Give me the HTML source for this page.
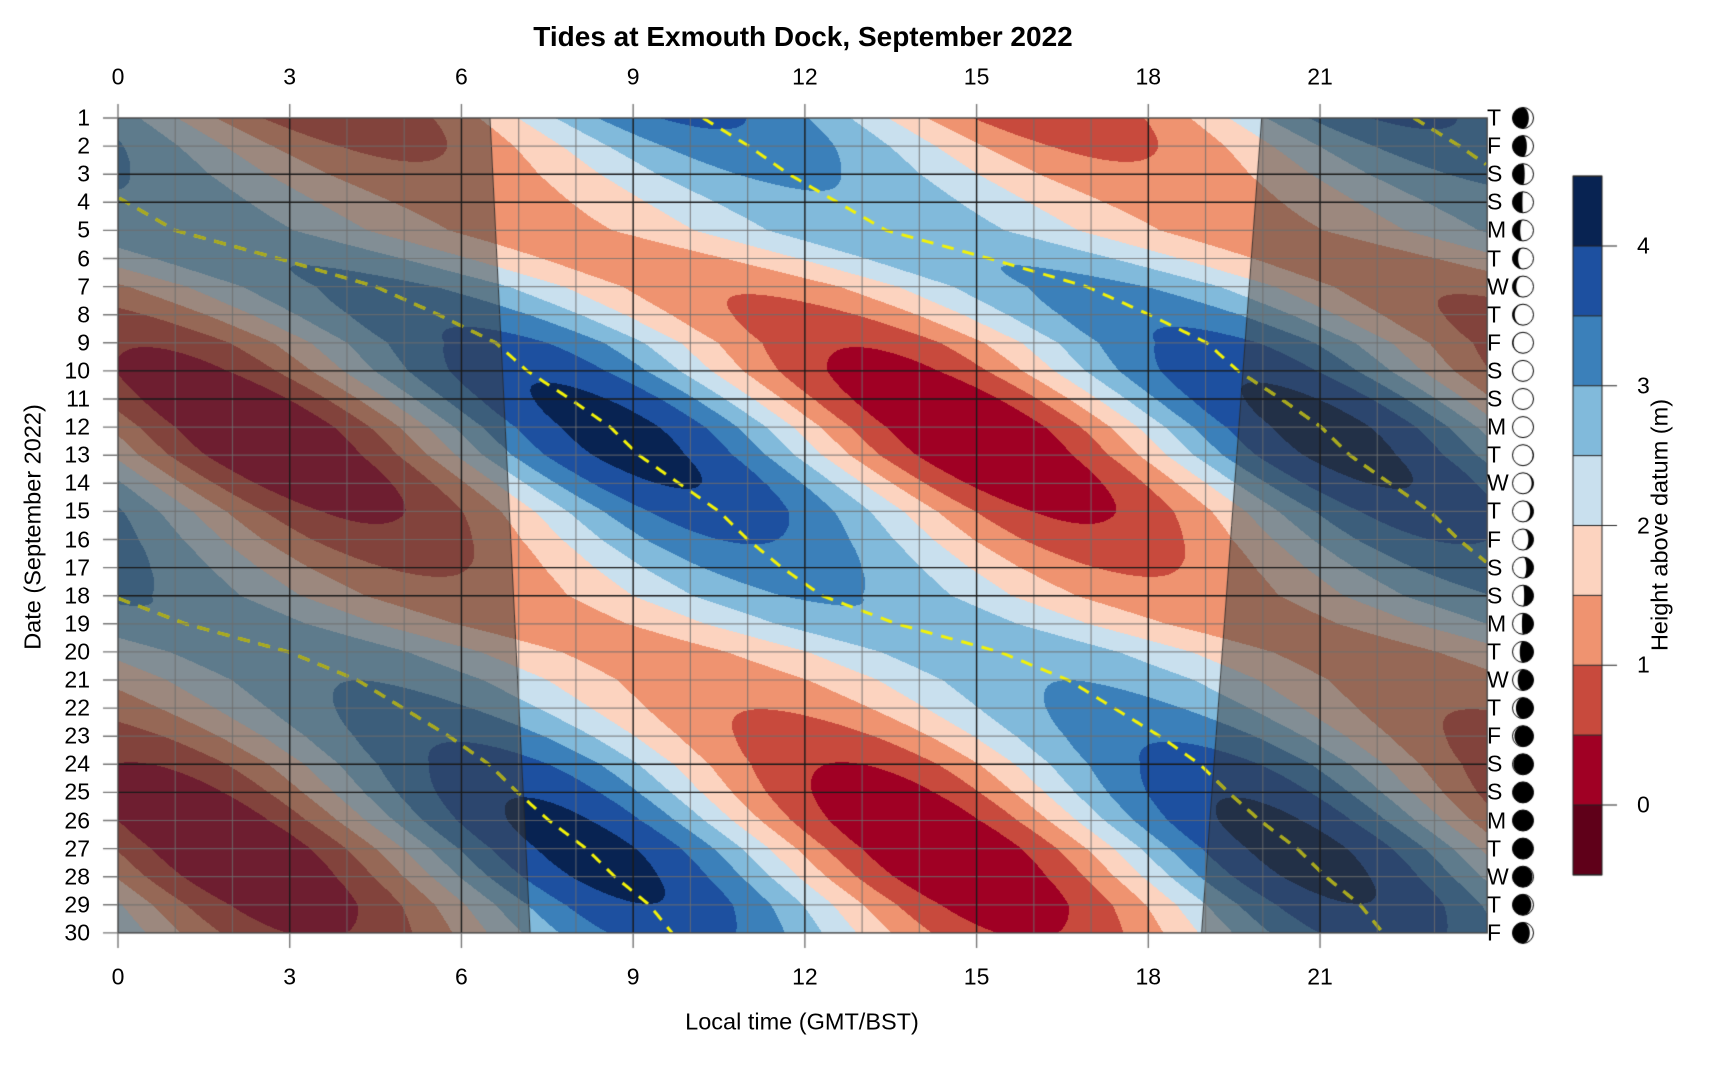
<!DOCTYPE html>
<html><head><meta charset="utf-8">
<style>
body{margin:0;background:#fff;width:1720px;height:1080px;overflow:hidden;position:relative;font-family:"Liberation Sans",Arial,sans-serif;color:#000}
canvas{position:absolute;left:0;top:0}
.t{position:absolute;white-space:nowrap;line-height:1}
.xl{font-size:23px;transform:translate(-50%,-50%)}
.yl{font-size:23px;transform:translate(-100%,-50%)}
.dl{font-size:23px;transform:translate(0,-50%)}
</style></head><body>
<canvas id="c" width="1720" height="1080"></canvas>
<div class="t" style="left:803px;top:37px;font-size:28px;font-weight:bold;transform:translate(-50%,-50%)">Tides at Exmouth Dock, September 2022</div>
<div class="t" style="left:802px;top:1022px;font-size:23.5px;transform:translate(-50%,-50%)">Local time (GMT/BST)</div>
<div class="t" style="left:33px;top:527px;font-size:23.5px;transform:translate(-50%,-50%) rotate(-90deg)">Date (September 2022)</div>
<div class="t" style="left:1660px;top:525px;font-size:23.5px;transform:translate(-50%,-50%) rotate(-90deg)">Height above datum (m)</div>
<div class="t xl" style="left:118px;top:77px">0</div><div class="t xl" style="left:289.7px;top:77px">3</div><div class="t xl" style="left:461.4px;top:77px">6</div><div class="t xl" style="left:633.2px;top:77px">9</div><div class="t xl" style="left:804.9px;top:77px">12</div><div class="t xl" style="left:976.6px;top:77px">15</div><div class="t xl" style="left:1148.3px;top:77px">18</div><div class="t xl" style="left:1320px;top:77px">21</div>
<div class="t xl" style="left:118px;top:977px">0</div><div class="t xl" style="left:289.7px;top:977px">3</div><div class="t xl" style="left:461.4px;top:977px">6</div><div class="t xl" style="left:633.2px;top:977px">9</div><div class="t xl" style="left:804.9px;top:977px">12</div><div class="t xl" style="left:976.6px;top:977px">15</div><div class="t xl" style="left:1148.3px;top:977px">18</div><div class="t xl" style="left:1320px;top:977px">21</div>
<div class="t yl" style="left:90px;top:118px">1</div><div class="t yl" style="left:90px;top:146.1px">2</div><div class="t yl" style="left:90px;top:174.2px">3</div><div class="t yl" style="left:90px;top:202.3px">4</div><div class="t yl" style="left:90px;top:230.4px">5</div><div class="t yl" style="left:90px;top:258.5px">6</div><div class="t yl" style="left:90px;top:286.6px">7</div><div class="t yl" style="left:90px;top:314.7px">8</div><div class="t yl" style="left:90px;top:342.8px">9</div><div class="t yl" style="left:90px;top:370.9px">10</div><div class="t yl" style="left:90px;top:399px">11</div><div class="t yl" style="left:90px;top:427.1px">12</div><div class="t yl" style="left:90px;top:455.2px">13</div><div class="t yl" style="left:90px;top:483.3px">14</div><div class="t yl" style="left:90px;top:511.4px">15</div><div class="t yl" style="left:90px;top:539.5px">16</div><div class="t yl" style="left:90px;top:567.6px">17</div><div class="t yl" style="left:90px;top:595.7px">18</div><div class="t yl" style="left:90px;top:623.8px">19</div><div class="t yl" style="left:90px;top:651.9px">20</div><div class="t yl" style="left:90px;top:680px">21</div><div class="t yl" style="left:90px;top:708.1px">22</div><div class="t yl" style="left:90px;top:736.2px">23</div><div class="t yl" style="left:90px;top:764.3px">24</div><div class="t yl" style="left:90px;top:792.4px">25</div><div class="t yl" style="left:90px;top:820.5px">26</div><div class="t yl" style="left:90px;top:848.6px">27</div><div class="t yl" style="left:90px;top:876.7px">28</div><div class="t yl" style="left:90px;top:904.8px">29</div><div class="t yl" style="left:90px;top:932.9px">30</div>
<div class="t dl" style="left:1487px;top:118px">T</div><div class="t dl" style="left:1487px;top:146.1px">F</div><div class="t dl" style="left:1487px;top:174.2px">S</div><div class="t dl" style="left:1487px;top:202.3px">S</div><div class="t dl" style="left:1487px;top:230.4px">M</div><div class="t dl" style="left:1487px;top:258.5px">T</div><div class="t dl" style="left:1487px;top:286.6px">W</div><div class="t dl" style="left:1487px;top:314.7px">T</div><div class="t dl" style="left:1487px;top:342.8px">F</div><div class="t dl" style="left:1487px;top:370.9px">S</div><div class="t dl" style="left:1487px;top:399px">S</div><div class="t dl" style="left:1487px;top:427.1px">M</div><div class="t dl" style="left:1487px;top:455.2px">T</div><div class="t dl" style="left:1487px;top:483.3px">W</div><div class="t dl" style="left:1487px;top:511.4px">T</div><div class="t dl" style="left:1487px;top:539.5px">F</div><div class="t dl" style="left:1487px;top:567.6px">S</div><div class="t dl" style="left:1487px;top:595.7px">S</div><div class="t dl" style="left:1487px;top:623.8px">M</div><div class="t dl" style="left:1487px;top:651.9px">T</div><div class="t dl" style="left:1487px;top:680px">W</div><div class="t dl" style="left:1487px;top:708.1px">T</div><div class="t dl" style="left:1487px;top:736.2px">F</div><div class="t dl" style="left:1487px;top:764.3px">S</div><div class="t dl" style="left:1487px;top:792.4px">S</div><div class="t dl" style="left:1487px;top:820.5px">M</div><div class="t dl" style="left:1487px;top:848.6px">T</div><div class="t dl" style="left:1487px;top:876.7px">W</div><div class="t dl" style="left:1487px;top:904.8px">T</div><div class="t dl" style="left:1487px;top:932.9px">F</div>
<div class="t" style="left:1637px;top:246px;font-size:23px;transform:translate(0,-50%)">4</div>
<div class="t" style="left:1637px;top:385.75px;font-size:23px;transform:translate(0,-50%)">3</div>
<div class="t" style="left:1637px;top:525.5px;font-size:23px;transform:translate(0,-50%)">2</div>
<div class="t" style="left:1637px;top:665.25px;font-size:23px;transform:translate(0,-50%)">1</div>
<div class="t" style="left:1637px;top:805px;font-size:23px;transform:translate(0,-50%)">0</div>
<script>
const c=document.getElementById('c'),g=c.getContext('2d');
const X0=118,Y0=118,HX=57.24,DY=28.1,TMAX=23.92,X1=X0+TMAX*HX,Y1=Y0+29*DY;
const X=h=>X0+h*HX,Y=d=>Y0+(d-1)*DY;
const Hp=[-2.2,-1.4,-0.7,0.15,1.0,2.8,4.5,5.6,6.6,7.15,7.9,8.6,9.1,9.8,10.5,11,11.6,12.3,13.6,15.4,16.6,17.4,18.2,18.9,19.4,19.95,20.6,21.1,21.7,22.1];
function H(d){let i=Math.floor(d-1);if(i<0)i=0;if(i>28)i=28;const f=d-1-i;return Hp[i]*(1-f)+Hp[i+1]*f;}
function A(d){return 1.45+0.65*Math.cos(2*Math.PI*(d-12.3)/14.77);}
const P=12.42;
const cols=[[95,0,25],[160,0,36],[200,74,61],[239,147,112],[252,211,191],[201,224,238],[129,186,219],[59,128,186],[29,80,160],[8,35,82]];
const W=Math.round(X1-X0),Hh=Math.round(Y1-Y0);
const img=g.createImageData(W,Hh);
for(let py=0;py<Hh;py++){const d=1+(py+0.5)/DY;const hd=H(d),ad=A(d);
 const sr=6.5+0.7*(d-1)/29, ss=19.98-1.05*(d-1)/29;
 for(let px=0;px<W;px++){const t=(px+0.5)/HX;
  const v=2.1+ad*Math.cos(2*Math.PI*(t-hd)/P);
  let b=Math.floor((v+0.5)/0.5);if(b<0)b=0;if(b>9)b=9;
  let [r,gg,bb]=cols[b];
  if(t<sr||t>ss){r=r*0.5+30;gg=gg*0.5+30;bb=bb*0.5+30;}
  const k=(py*W+px)*4;img.data[k]=r;img.data[k+1]=gg;img.data[k+2]=bb;img.data[k+3]=255;}}
g.putImageData(img,X0,Y0);
function tracks(col){
 g.setLineDash([12,9]);g.lineWidth=3;
 for(let k=-1;k<=2;k++){
  g.beginPath();let on=false;
  for(let d=1;d<=30.001;d+=0.05){const t=H(d)+k*P;
   if(t<0||t>TMAX){on=false;continue;}
   if(!on){g.moveTo(X(t),Y(d));on=true;}else g.lineTo(X(t),Y(d));}
  g.strokeStyle=col;g.stroke();}
 g.setLineDash([]);}
g.save();g.beginPath();g.rect(X0,Y0,X1-X0,Y1-Y0);g.clip();tracks('#f2f20a');g.restore();
g.save();
g.beginPath();g.moveTo(X0,Y0);g.lineTo(X(6.5),Y0);g.lineTo(X(7.2),Y1);g.lineTo(X0,Y1);g.closePath();
g.moveTo(X(19.98),Y0);g.lineTo(X1,Y0);g.lineTo(X1,Y1);g.lineTo(X(18.93),Y1);g.closePath();
g.clip();tracks('#a8a820');g.restore();
g.strokeStyle='rgba(40,40,40,0.8)';g.lineWidth=1;
g.beginPath();g.moveTo(X(6.5),Y0);g.lineTo(X(7.2),Y1);g.moveTo(X(19.98),Y0);g.lineTo(X(18.93),Y1);g.stroke();
g.lineWidth=1.2;
for(let h=1;h<24;h++){if(h%3==0)continue;g.strokeStyle='rgba(110,110,110,0.75)';g.beginPath();g.moveTo(X(h),Y0);g.lineTo(X(h),Y1);g.stroke();}
for(let d=2;d<30;d++){if([3,4,10,11,17,18,24,25].includes(d))continue;g.strokeStyle='rgba(110,110,110,0.75)';g.beginPath();g.moveTo(X0,Y(d));g.lineTo(X1,Y(d));g.stroke();}
g.strokeStyle='#1a1a1a';g.lineWidth=1.4;
for(let h=3;h<24;h+=3){g.beginPath();g.moveTo(X(h),Y0);g.lineTo(X(h),Y1);g.stroke();}
for(const d of [3,4,10,11,17,18,24,25]){g.beginPath();g.moveTo(X0,Y(d));g.lineTo(X1,Y(d));g.stroke();}
g.strokeStyle='#444';g.lineWidth=1.4;g.strokeRect(X0,Y0,X1-X0,Y1-Y0);
g.strokeStyle='#777';g.lineWidth=1.4;g.beginPath();
for(let h=0;h<24;h+=3){g.moveTo(X(h),Y0-14);g.lineTo(X(h),Y0);g.moveTo(X(h),Y1);g.lineTo(X(h),Y1+15);}
for(let d=1;d<=30;d++){g.moveTo(X0-15,Y(d));g.lineTo(X0,Y(d));}
g.stroke();
for(let d=1;d<=30;d++){const cx=1523,cy=Y(d),r=10.5;
 let p=((d-25.9)%29.53+29.53)%29.53/29.53*2*Math.PI;
 g.fillStyle='#fff';g.beginPath();g.arc(cx,cy,r,0,7);g.fill();
 g.fillStyle='#000';g.beginPath();const N=30;
 if(p<Math.PI){for(let i=0;i<=N;i++){const yy=-r+2*r*i/N,s=Math.sqrt(Math.max(0,1-yy*yy/r/r));g.lineTo(cx-r*s,cy+yy);}
  for(let i=N;i>=0;i--){const yy=-r+2*r*i/N,s=Math.sqrt(Math.max(0,1-yy*yy/r/r));g.lineTo(cx+r*Math.cos(p)*s,cy+yy);}}
 else{for(let i=0;i<=N;i++){const yy=-r+2*r*i/N,s=Math.sqrt(Math.max(0,1-yy*yy/r/r));g.lineTo(cx+r*s,cy+yy);}
  for(let i=N;i>=0;i--){const yy=-r+2*r*i/N,s=Math.sqrt(Math.max(0,1-yy*yy/r/r));g.lineTo(cx-r*Math.cos(p)*s,cy+yy);}}
 g.closePath();g.fill();
 g.strokeStyle='#000';g.lineWidth=1;g.beginPath();g.arc(cx,cy,r,0,7);g.stroke();}
const CB=[1573,1602],U=139.75;
for(let i=0;i<10;i++){const v0=-0.5+i*0.5;const ya=805-(v0+0.5)*U,yb=805-v0*U;
 g.fillStyle='rgb('+cols[i].join(',')+')';g.fillRect(CB[0],ya,CB[1]-CB[0],yb-ya);}
g.strokeStyle='#222';g.lineWidth=1;
for(let i=0;i<=10;i++){const y=805-(-0.5+i*0.5)*U;g.beginPath();g.moveTo(CB[0],y);g.lineTo(CB[1],y);g.stroke();}
g.strokeRect(CB[0],805-4.5*U,CB[1]-CB[0],5*U);
g.beginPath();for(let v=0;v<=4;v++){const y=805-v*U;g.moveTo(CB[1],y);g.lineTo(CB[1]+15,y);}g.stroke();
</script>
</body></html>
